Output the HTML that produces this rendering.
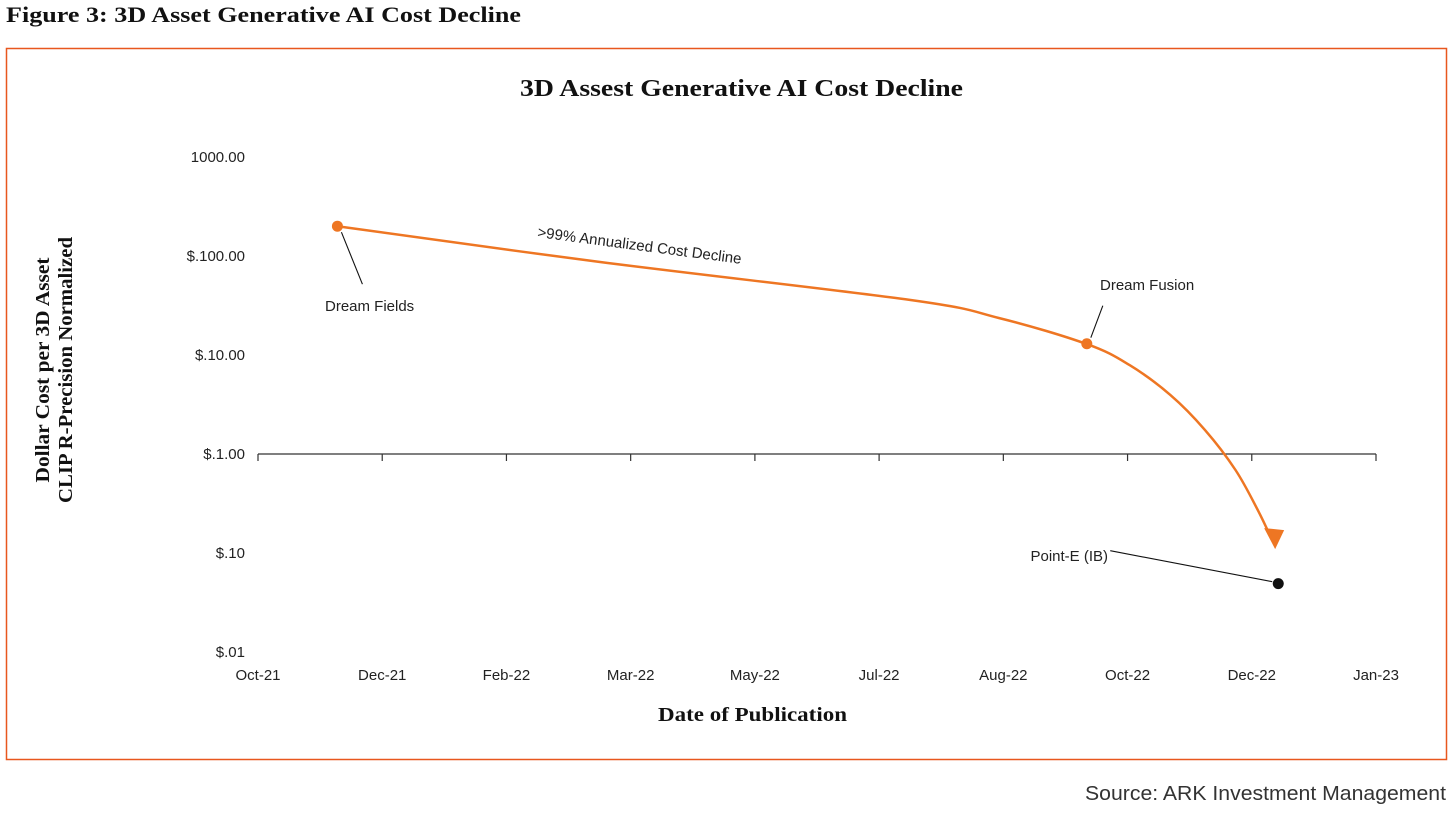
<!DOCTYPE html>
<html><head><meta charset="utf-8"><style>
html,body{margin:0;padding:0;background:#fff;}
body{width:1456px;height:818px;position:relative;overflow:hidden;font-family:"Liberation Sans",sans-serif;}
svg{position:absolute;left:0;top:0;}
</style></head><body>
<svg id="c" width="1456" height="818"></svg>
<script>
const tickLabels=["Oct-21","Dec-21","Feb-22","Mar-22","May-22","Jul-22","Aug-22","Oct-22","Dec-22","Jan-23"];
const yTicks=[1000,100,10,1,0.1,0.01];
const yTickLabels=["1000.00","$.100.00","$.10.00","$.1.00","$.10","$.01"];
const pointNames=["Dream Fields","Dream Fusion","Point-E (IB)"];
const pointDays=[39,407,501];
const pointValues=[200,13,0.049];
const trendDays=[39,168,320,364,407,428,448,465,480,491,498];
const trendValues=[200,87,36,23.6,12.9,7.9,3.95,1.75,0.69,0.27,0.135];
const NS="http://www.w3.org/2000/svg";
const svg=document.getElementById('c');
const X0=258,X1=1376,DAYS_PER_TICK=61;
const xs=d=>X0+d/DAYS_PER_TICK*((X1-X0)/9);
const ys=v=>454-Math.log10(v)*99;
function el(t,a,txt){const e=document.createElementNS(NS,t);for(const k in a)e.setAttribute(k,a[k]);if(txt!==undefined)e.textContent=txt;svg.appendChild(e);return e;}
const serif='"Liberation Serif",serif';
let e;
e=el('text',{x:6,y:22,'font-family':serif,'font-weight':'bold','font-size':22,fill:'#111',textLength:515,lengthAdjust:'spacingAndGlyphs'},'Figure 3: 3D Asset Generative AI Cost Decline');

e=el('rect',{x:6.5,y:48.5,width:1440,height:711,fill:'none',stroke:'#e8571e','stroke-width':1.5});

e=el('text',{x:520,y:96,'font-family':serif,'font-weight':'bold','font-size':24,fill:'#111',textLength:443,lengthAdjust:'spacingAndGlyphs'},'3D Assest Generative AI Cost Decline');

yTicks.forEach((v,i)=>{const t=el('text',{x:245,y:ys(v)+5,'text-anchor':'end','font-size':15,fill:'#222'},yTickLabels[i]);
});
e=el('line',{x1:X0,y1:454,x2:X1,y2:454,stroke:'#333','stroke-width':1.2});

tickLabels.forEach((l,i)=>{const x=xs(i*DAYS_PER_TICK);
const t=el('line',{x1:x,y1:454,x2:x,y2:461,stroke:'#333','stroke-width':1.2});

const tx=el('text',{x:x,y:680,'text-anchor':'middle','font-size':15,fill:'#222'},l);
});
e=el('text',{x:658,y:721,'font-family':serif,'font-weight':'bold','font-size':20,fill:'#111',textLength:189,lengthAdjust:'spacingAndGlyphs'},'Date of Publication');

const g=el('g',{transform:'translate(60,370) rotate(-90)'});

[['Dollar Cost per 3D Asset',-11,225],['CLIP R-Precision Normalized',12,266]].forEach(([s,dy,L])=>{const t=document.createElementNS(NS,'text');
t.setAttribute('x',0);t.setAttribute('y',dy);t.setAttribute('text-anchor','middle');t.setAttribute('font-family',serif);t.setAttribute('font-weight','bold');t.setAttribute('font-size',20);t.setAttribute('fill','#111');t.setAttribute('textLength',L);t.setAttribute('lengthAdjust','spacingAndGlyphs');t.textContent=s;g.appendChild(t);});
// smooth Catmull-Rom curve through trend points
const P=trendDays.map((v,i)=>[xs(v),ys(trendValues[i])]);
let d='M'+P[0][0].toFixed(1)+','+P[0][1].toFixed(1);
for(let i=0;i<P.length-1;i++){const p0=P[Math.max(0,i-1)],p1=P[i],p2=P[i+1],p3=P[Math.min(P.length-1,i+2)];
const c1=[p1[0]+(p2[0]-p0[0])/6,p1[1]+(p2[1]-p0[1])/6],c2=[p2[0]-(p3[0]-p1[0])/6,p2[1]-(p3[1]-p1[1])/6];
d+=`C${c1[0].toFixed(1)},${c1[1].toFixed(1)} ${c2[0].toFixed(1)},${c2[1].toFixed(1)} ${p2[0].toFixed(1)},${p2[1].toFixed(1)}`;}
e=el('path',{d:d,fill:'none',stroke:'#ee7623','stroke-width':2.5,'stroke-linejoin':'round'});

const n=trendDays.length,ax=xs(trendDays[n-1]),ay=ys(trendValues[n-1]);
e=el('polygon',{points:`${ax-8},${ay-12} ${ax+12},${ay-10} ${ax+3},${ay+9}`,fill:'#ee7623'});

e=el('text',{x:537,y:237,'font-size':15,fill:'#222',transform:'rotate(7.5 537 237)'},'>99% Annualized Cost Decline');

const lbl=[[325,311,'start'],[1100,290,'start'],[1108,561,'end']];
const lead=[[4,6,25,58],[4,-6,16,-38],[-168,-33,-6,-2]];
pointDays.forEach((dd,i)=>{const x=xs(dd),y=ys(pointValues[i]);const L=lbl[i],q=lead[i];
const ln=el('line',{x1:x+q[0],y1:y+q[1],x2:x+q[2],y2:y+q[3],stroke:'#111','stroke-width':1.1});

const c=el('circle',{cx:x,cy:y,r:5.5,fill:i==2?'#111':'#ee7623'});

const t=el('text',{x:L[0],y:L[1],'text-anchor':L[2],'font-size':15,fill:'#222'},pointNames[i]);
});
e=el('text',{x:1085,y:800,'font-size':20,fill:'#333',textLength:361,lengthAdjust:'spacingAndGlyphs'},'Source: ARK Investment Management');

</script>
</body></html>
